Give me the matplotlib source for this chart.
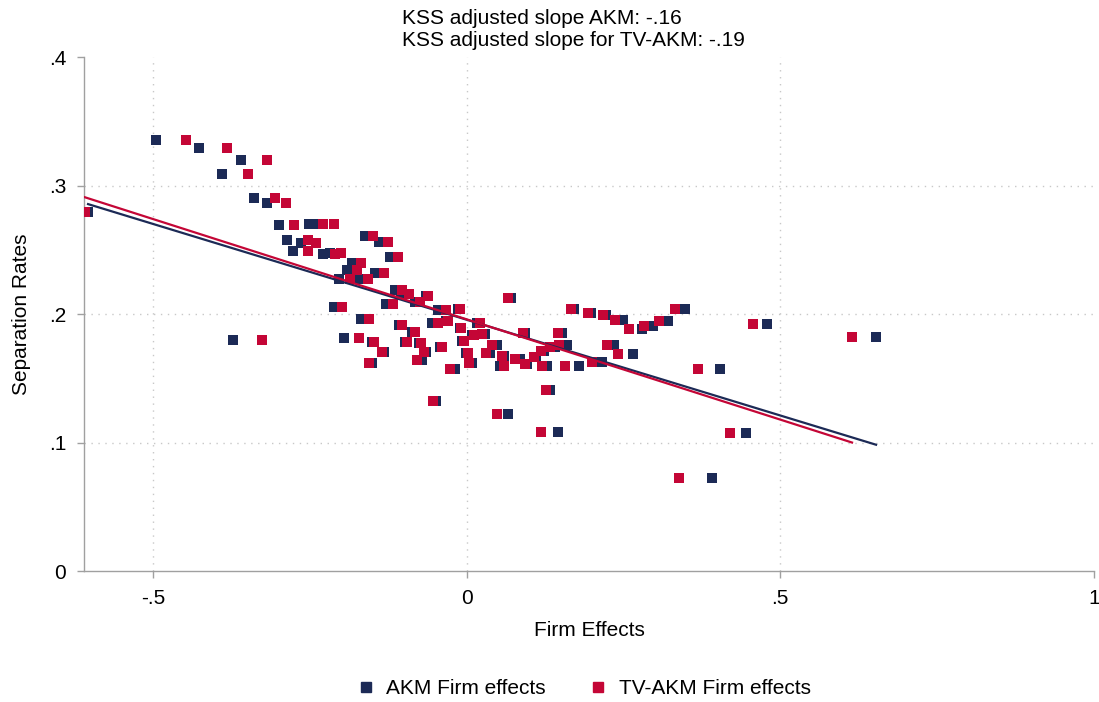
import matplotlib
matplotlib.use("Agg")
import matplotlib.pyplot as plt
from matplotlib.lines import Line2D

plt.rcParams['font.family'] = ['Liberation Sans', 'DejaVu Sans']

# Binned separation rates (shared by both series)
separation = [0.2795, 0.3356, 0.3293, 0.3200, 0.3091, 0.2904, 0.2865, 0.2694, 0.2702, 0.2702,
              0.2577, 0.2554, 0.2492, 0.2468, 0.2476, 0.2609, 0.2562, 0.2445, 0.2398, 0.2344,
              0.2321, 0.2274, 0.2274, 0.2188, 0.2157, 0.2142, 0.2079, 0.2095, 0.2056, 0.2033,
              0.2040, 0.1963, 0.1916, 0.1931, 0.1947, 0.1931, 0.1893, 0.2126, 0.1815, 0.1784,
              0.1861, 0.1784, 0.1776, 0.1706, 0.1706, 0.1745, 0.1644, 0.1620, 0.1574, 0.1325,
              0.1846, 0.1838, 0.1791, 0.1760, 0.1854, 0.1854, 0.1698, 0.1698, 0.1620, 0.1675,
              0.1651, 0.1597, 0.1612, 0.1667, 0.1714, 0.1597, 0.1745, 0.1760, 0.1597, 0.1628,
              0.2040, 0.2009, 0.1994, 0.1955, 0.1885, 0.1908, 0.1947, 0.2040, 0.1760, 0.1690,
              0.1574, 0.1924, 0.1823, 0.1075, 0.0725, 0.1410, 0.1223, 0.1083, 0.1799]

akm_fe = [-0.604, -0.4955, -0.4270, -0.3600, -0.3903, -0.3392, -0.3185, -0.2994, -0.2515, -0.2451,
          -0.2866, -0.2643, -0.2770, -0.2292, -0.2180, -0.1622, -0.1399, -0.1223, -0.1829, -0.1909,
          -0.1463, -0.2037, -0.1734, -0.1144, -0.1048, -0.0649, -0.1287, -0.0825, -0.2116, -0.0458,
          -0.0139, -0.1686, -0.1080, -0.0553, -0.0330, 0.0164, -0.0107, 0.0707, -0.1957, -0.1510,
          -0.0872, -0.0984, -0.0761, -0.1319, -0.0649, -0.0426, -0.0713, -0.1510, -0.0187, -0.0490,
          0.0292, 0.0085, -0.0075, 0.0483, 0.0930, 0.1520, 0.0372, -0.0011, 0.0085, 0.0595,
          0.0850, 0.0531, 0.0962, 0.1105, 0.1233, 0.1281, 0.1408, 0.1600, 0.1791, 0.2158,
          0.1711, 0.1982, 0.2222, 0.2493, 0.2796, 0.2971, 0.3211, 0.3482, 0.2349, 0.2652,
          0.4040, 0.4790, 0.6528, 0.4455, 0.3913, 0.1329, 0.0659, 0.1456, -0.3724]

tvakm_fe = [-0.609, -0.4477, -0.3823, -0.3185, -0.3488, -0.3057, -0.2882, -0.2754, -0.2292, -0.2116,
            -0.2531, -0.2403, -0.2531, -0.2100, -0.2005, -0.1494, -0.1255, -0.1096, -0.1686, -0.1750,
            -0.1319, -0.1861, -0.1575, -0.1032, -0.0920, -0.0617, -0.1175, -0.0745, -0.1989, -0.0330,
            -0.0107, -0.1558, -0.1032, -0.0458, -0.0298, 0.0212, -0.0091, 0.0659, -0.1718, -0.1478,
            -0.0825, -0.0952, -0.0729, -0.1351, -0.0681, -0.0394, -0.0793, -0.1558, -0.0266, -0.0537,
            0.0244, 0.0116, -0.0043, 0.0403, 0.0898, 0.1456, 0.0308, 0.0021, 0.0037, 0.0563,
            0.0770, 0.0595, 0.0930, 0.1073, 0.1185, 0.1201, 0.1329, 0.1472, 0.1568, 0.1998,
            0.1664, 0.1935, 0.2174, 0.2365, 0.2589, 0.2828, 0.3067, 0.3322, 0.2238, 0.2413,
            0.3689, 0.4566, 0.6145, 0.4199, 0.3386, 0.1265, 0.0483, 0.1185, -0.3261]

# Linear fit coefficients (intercept, slope)
akm_fit = [0.1957, -0.149]
tvakm_fit = [0.1960, -0.156]

title_lines = ["KSS adjusted slope AKM: -.16", "KSS adjusted slope for TV-AKM: -.19"]
xticks = [-0.5, 0, 0.5, 1]
xticklabels = ["-.5", "0", ".5", "1"]
yticks = [0, 0.1, 0.2, 0.3, 0.4]
yticklabels = ["0", ".1", ".2", ".3", ".4"]

navy = '#1c2a56'
red = '#c40636'
grey = '#a0a0a0'
FS = 15

fig = plt.figure(figsize=(10.99, 7.02), dpi=100)
ax = fig.add_axes([0.0767, 0.1863, 0.9185, 0.7322])

ax.set_xlim(-0.61, 1.0)
ax.set_ylim(0, 0.4)

# grid
for gx in [-0.5, 0, 0.5]:
    ax.axvline(gx, color='#c8c8c8', lw=1.0, ls=(0, (1, 4)), zorder=0)
for gy in [0.1, 0.2, 0.3]:
    ax.axhline(gy, color='#c8c8c8', lw=1.0, ls=(0, (1, 4)), zorder=0)

ax.scatter(akm_fe, separation, marker='s', s=58, color=navy, linewidths=0, zorder=3)
ax.scatter(tvakm_fe, separation, marker='s', s=58, color=red, linewidths=0, zorder=3)

for fe, fit, c in [(akm_fe, akm_fit, navy), (tvakm_fe, tvakm_fit, red)]:
    lo, hi = min(fe), max(fe)
    ax.plot([lo, hi], [fit[0] + fit[1] * lo, fit[0] + fit[1] * hi], color=c, lw=1.6, zorder=4)

for s in ['top', 'right']:
    ax.spines[s].set_visible(False)
for s in ['left', 'bottom']:
    ax.spines[s].set_color(grey)
    ax.spines[s].set_linewidth(1.0)

ax.set_xticks(xticks)
ax.set_xticklabels(xticklabels)
ax.set_yticks(yticks)
ax.set_yticklabels(yticklabels)
ax.tick_params(axis='both', colors=grey, labelcolor='black', labelsize=FS, length=5, width=1)
ax.tick_params(axis='y', pad=8)
ax.tick_params(axis='x', pad=8)

ax.set_xlabel("Firm Effects", fontsize=FS, labelpad=9)
ax.set_ylabel("Separation Rates", fontsize=FS, labelpad=13)

fig.text(402 / 1099, 1 - 18 / 702, title_lines[0], fontsize=FS, ha='left', va='center')
fig.text(402 / 1099, 1 - 40 / 702, title_lines[1], fontsize=FS, ha='left', va='center')

handles = [Line2D([], [], marker='s', ls='none', color=navy, markersize=7.5),
           Line2D([], [], marker='s', ls='none', color=red, markersize=7.5)]
fig.legend(handles, ["AKM Firm effects", "TV-AKM Firm effects"], loc='center',
           bbox_to_anchor=(583 / 1099, 1 - 689 / 702), ncol=2, frameon=False, fontsize=FS,
           handletextpad=0.5, columnspacing=2.0, handlelength=1.0)

fig.savefig("out.png", dpi=100)
